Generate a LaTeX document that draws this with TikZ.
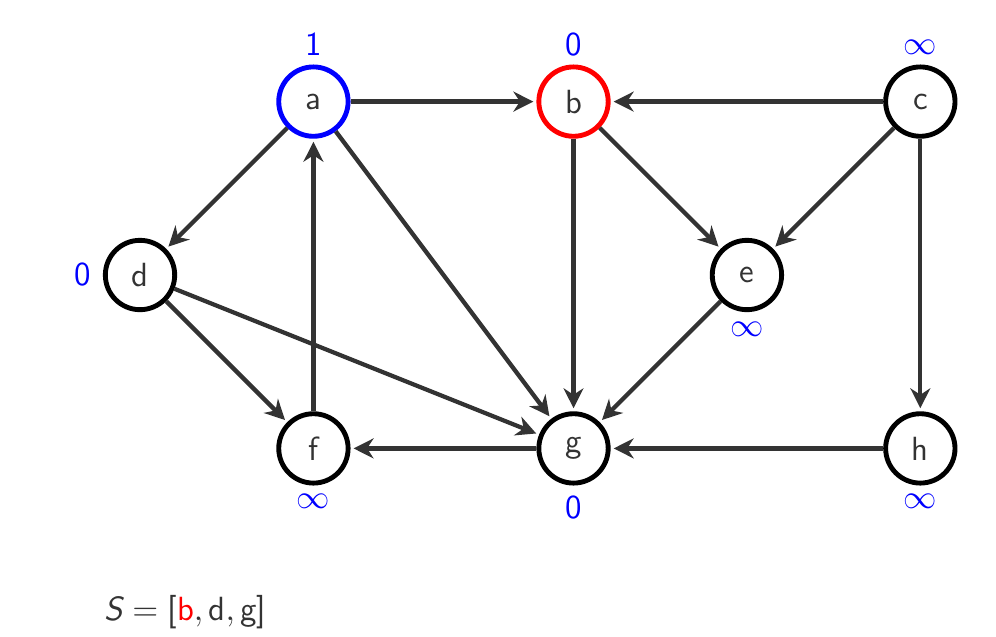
\documentclass[tikz,border=0pt]{standalone}
\usetikzlibrary{arrows.meta}
\renewcommand{\familydefault}{\sfdefault}
\begin{document}
\begin{tikzpicture}[
        vertex/.style={circle, draw, line width=1.6pt, minimum size=0.8cm, inner sep=0pt, text=black!80, font=\fontsize{11}{13}\selectfont},
        dist/.style={text=blue, font=\fontsize{11}{13}\selectfont},
        arrow/.style={-{Stealth[length=2.3mm, width=2.3mm]}, line width=1.4pt, draw=black!80, shorten >=1pt}
    ]
        \useasboundingbox (-1.615,-4.175) rectangle (9.873,3.172);

        % Vertices
        \node[vertex, draw=blue] (a) at (2,2) {a};
        \node[vertex, draw=red] (b) at (5,2) {b};
        \node[vertex] (c) at (9,2) {c};
        \node[vertex] (d) at (0,0) {d};
        \node[vertex] (e) at (7,0) {e};
        \node[vertex] (f) at (2,-2) {f};
        \node[vertex] (g) at (5,-2) {g};
        \node[vertex] (h) at (9,-2) {h};

        % Distances
        \node[dist] (la) at (2,2.66) {1};
        \node[dist] (lb) at (5,2.66) {0};
        \node[dist] (lc) at (9,2.63) {$\infty$};
        \node[dist] (ld) at (-0.66,0) {0};
        \node[dist] (le) at (7,-0.63) {$\infty$};
        \node[dist] (lf) at (2,-2.61) {$\infty$};
        \node[dist] (lg) at (5,-2.68) {0};
        \node[dist] (lh) at (9,-2.61) {$\infty$};

        % Edges
        \draw[arrow] (a) -- (b);
        \draw[arrow] (c) -- (b);
        \draw[arrow] (a) -- (d);
        \draw[arrow] (a) -- (g);
        \draw[arrow] (b) -- (g);
        \draw[arrow] (b) -- (e);
        \draw[arrow] (c) -- (e);
        \draw[arrow] (c) -- (h);
        \draw[arrow] (d) -- (f);
        \draw[arrow] (d) -- (g);
        \draw[arrow] (f) -- (a);
        \draw[arrow] (e) -- (g);
        \draw[arrow] (g) -- (f);
        \draw[arrow] (h) -- (g);

        % Stack
        \node[anchor=west, text=black!80, font=\fontsize{11}{13}\selectfont] (stack) at (-0.53,-3.89) {$\textit{S} = \textsf{[}\textcolor{red}{\textsf{b}}, \textsf{d}, \textsf{g}\textsf{]}$};
    \end{tikzpicture}
\end{document}
